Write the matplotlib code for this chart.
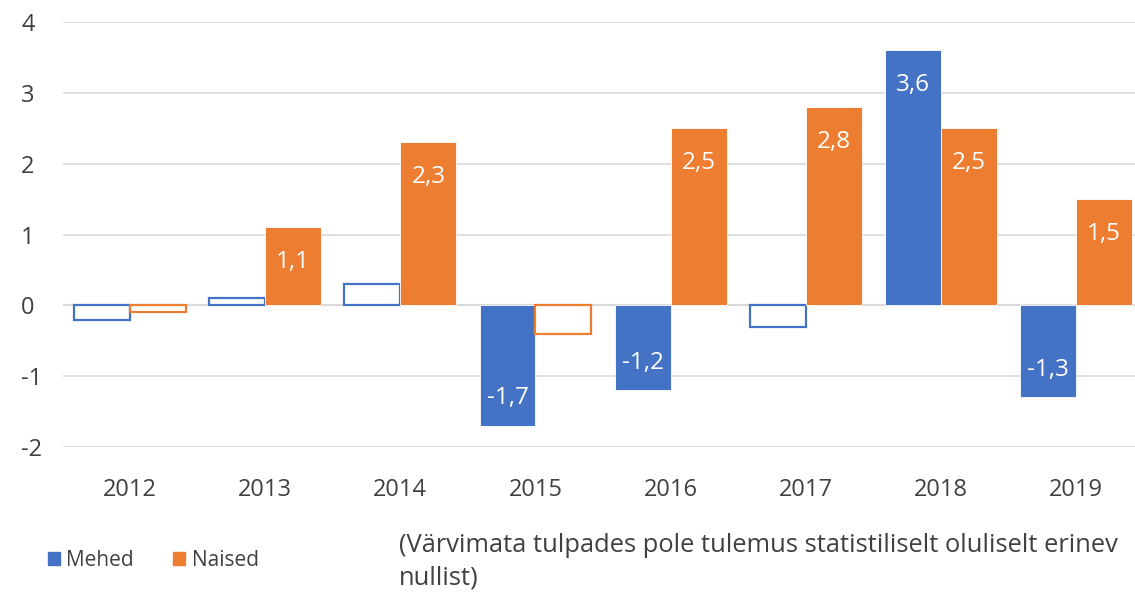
import matplotlib
matplotlib.use("Agg")
import matplotlib.pyplot as plt
import matplotlib.transforms as mtransforms
from matplotlib.patches import Patch
import numpy as np

plt.rcParams['font.family'] = ['Open Sans', 'DejaVu Sans']

years = ["2012", "2013", "2014", "2015", "2016", "2017", "2018", "2019"]
mehed = [-0.2, 0.1, 0.3, -1.7, -1.2, -0.3, 3.6, -1.3]
naised = [-0.1, 1.1, 2.3, -0.4, 2.5, 2.8, 2.5, 1.5]
# True = statistically significant (coloured bar)
mehed_sig = [False, False, False, True, True, False, True, True]
naised_sig = [False, True, True, False, True, True, True, True]
yticks = [-2, -1, 0, 1, 2, 3, 4]
series_names = ["Mehed", "Naised"]
note = "(Värvimata tulpades pole tulemus statistiliselt oluliselt erinev\nnullist)"

BLUE = "#4472C4"
ORANGE = "#ED7D31"
TXT = "#404040"

fig = plt.figure(figsize=(11.35, 5.92), dpi=100)
ax = fig.add_axes([62.5/1135, 1-447/592, (1143.6-62.5)/1135, (447-22)/592])

x = np.arange(len(years))
w = 0.414

def draw(vals, sig, color, offs):
    for xi, v, s in zip(x, vals, sig):
        if s:
            ax.bar(xi + offs, v, width=w, color=color, edgecolor="#ffffff",
                   linewidth=0.6, zorder=3, align="center")
            lab = f"{v:.1f}".replace(".", ",")
            dy = -25 if v >= 0 else 20
            ax.annotate(lab, (xi + offs, v), xytext=(0, dy), textcoords="offset points",
                        ha="center", va="center", color="white", fontsize=17.5, zorder=4)
        else:
            ax.bar(xi + offs, v, width=w, color="white", edgecolor=color,
                   linewidth=1.6, zorder=3, align="center")

draw(mehed, mehed_sig, BLUE, -w/2)
draw(naised, naised_sig, ORANGE, w/2)

ax.set_xlim(-0.5, len(years) - 0.5)
ax.set_ylim(-2, 4)
ax.set_yticks(yticks)
ax.set_yticklabels([str(t) for t in yticks])
ax.set_xticks(x)
ax.set_xticklabels(years)
ax.yaxis.grid(True, color="#D9D9D9", linewidth=1.2, zorder=0)
ax.set_axisbelow(True)
ax.axhline(0, color="#D9D9D9", linewidth=1.5, zorder=2)
for sp in ax.spines.values():
    sp.set_visible(False)
ax.tick_params(axis="both", length=0, labelsize=17, colors=TXT)
ax.tick_params(axis="x", pad=22)
ax.yaxis.set_tick_params(pad=0)
offset = mtransforms.ScaledTranslation(-(62.5-21)/100, 0, fig.dpi_scale_trans)
for lbl in ax.get_yticklabels():
    lbl.set_horizontalalignment("left")
    lbl.set_transform(lbl.get_transform() + offset)

# legend
handles = [Patch(facecolor=BLUE, edgecolor=BLUE), Patch(facecolor=ORANGE, edgecolor=ORANGE)]
fig.legend(handles, series_names, loc="center left", bbox_to_anchor=(29/1135, 1-560/592),
           ncol=2, frameon=False, fontsize=15, handlelength=0.58, handleheight=0.58,
           handletextpad=0.3, columnspacing=1.9, labelcolor=TXT)

fig.text(399/1135, 1-562/592, note, fontsize=18.4, color=TXT, va="center", ha="left",
         linespacing=1.37)

fig.savefig("out.png", dpi=100)
